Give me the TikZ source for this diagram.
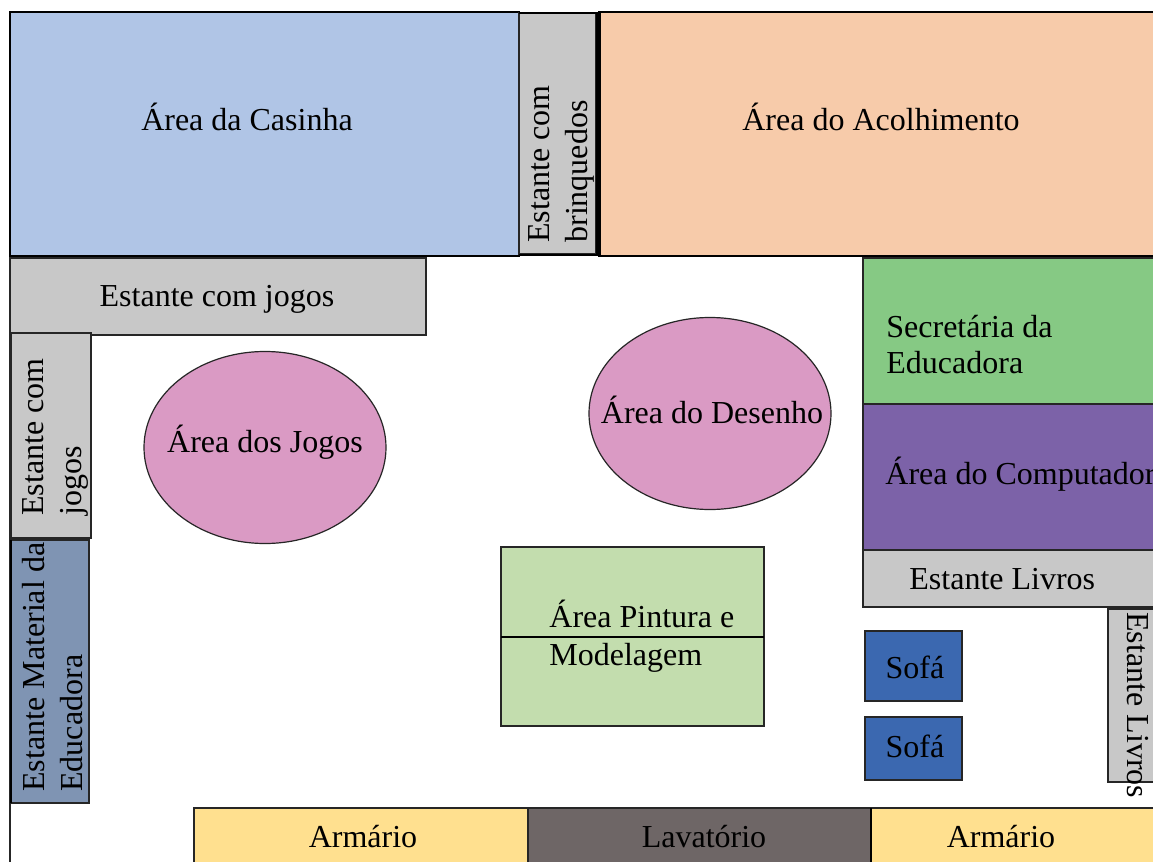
\documentclass[tikz,border=0pt]{standalone}
\usepackage{fontspec}
\setmainfont{Liberation Serif}
\definecolor{casinha}{HTML}{B0C5E6}
\definecolor{acolhe}{HTML}{F7CBAA}
\definecolor{estante}{HTML}{C8C8C8}
\definecolor{secret}{HTML}{86C984}
\definecolor{compu}{HTML}{7C62A8}
\definecolor{mesa}{HTML}{DA9AC4}
\definecolor{pintura}{HTML}{C3DDAE}
\definecolor{sofa}{HTML}{3B68B0}
\definecolor{material}{HTML}{7F94B3}
\definecolor{armario}{HTML}{FFE08F}
\definecolor{lavat}{HTML}{6E6666}
\tikzset {
  x=0.5pt, y=-0.5pt,
  % areas of the room
  area/.style = {draw=black!85, line width=0.6pt},
  thickarea/.style = {draw=black, line width=1.3pt},
  % labels
  lab/.style = {inner sep=0pt, font=\fontsize{16}{19}\selectfont},
  lableft/.style = {lab, align=left},
  labup/.style = {lab, rotate=90, align=left},
  labdown/.style = {lab, rotate=-90},
}

\begin{document}
\begin{tikzpicture}
  \useasboundingbox (0,0) rectangle (1153,862);
  \clip (0,0) rectangle (1153,862);
  \fill[white] (0,0) rectangle (1153,862);

  % room outline on the left
  \draw[area] (10,12) -- (10,862);

  % top row
  \draw[thickarea, fill=casinha] (10,12) rectangle (519,256);
  \draw[thickarea, fill=acolhe] (599,12) rectangle (1160,256);
  \draw[area, fill=estante] (519,13) rectangle (596,254);
  \draw[line width=2.5pt] (598,12) -- (598,256);
  \draw[thickarea] (519,13) -- (599,13);
  \draw[thickarea] (519,255) -- (599,255);

  % left wall
  \draw[area, fill=estante] (10,258) rectangle (426,335);
  \draw[area, fill=estante] (11,333) rectangle (91,538);
  \draw[area, fill=material] (11,540) rectangle (89,803);
  \draw[line width=1.3pt] (11,540) -- (11,803);

  % tables
  \draw[area, fill=mesa] (265,447.5) ellipse (121 and 96);
  \draw[area, fill=mesa] (710,413.5) ellipse (121 and 96);
  \draw[area, fill=pintura] (501,547) rectangle (764,726);
  \draw[thickarea] (501,637) -- (764,637);

  % right wall
  \draw[area, fill=secret] (863,258) rectangle (1160,404);
  \draw[area, fill=compu] (863,404) rectangle (1160,550);
  \draw[area, fill=estante] (863,550) rectangle (1160,607);
  \draw[area, fill=estante] (1108,609) rectangle (1160,782);
  \draw[area, fill=sofa] (865,631) rectangle (962,701);
  \draw[area, fill=sofa] (865,717) rectangle (962,780);

  % bottom row
  \draw[area, fill=armario] (194,808) rectangle (528,870);
  \draw[area, fill=lavat] (528,808) rectangle (871,870);
  \draw[area, fill=armario] (871,808) rectangle (1160,870);
  \draw[thickarea] (871,808) -- (871,870);

  % labels
  \node[lab] (casinhaL) at (247,117) {Área da Casinha};
  \node[lab] (acolheL) at (881,117) {Área do Acolhimento};
  \node[labup, anchor=south west] (brinqL) at (595,243) {Estante com\\brinquedos};
  \node[lab] (jogosL) at (217,299) {Estante com jogos};
  \node[labup, anchor=south west] (jogosV) at (89,516) {Estante com\\jogos};
  \node[labup, anchor=south west] (materialL) at (83,792) {Estante Material da\\Educadora};
  \node[lab] (areaJogos) at (265,442) {Área dos Jogos};
  \node[lab] (areaDesenho) at (712,410) {Área do Desenho};
  \node[lableft, anchor=north west] (pinturaL) at (549,600) {Área Pintura e\\Modelagem};
  \node[lableft, anchor=north west, font=\fontsize{16}{18}\selectfont] (secretL) at (886,315) {Secretária da\\Educadora};
  \node[lab, anchor=west] (compuL) at (885,474) {Área do Computador};
  \node[lab, anchor=west] (livrosL) at (909,579) {Estante Livros};
  \node[labdown, anchor=south west] (livrosV) at (1127,612) {Estante Livros};
  \node[lab] (sofaA) at (915,667) {Sofá};
  \node[lab] (sofaB) at (915,746) {Sofá};
  \node[lab] (armarioA) at (363,837) {Armário};
  \node[lab] (lavatL) at (704,837) {Lavatório};
  \node[lab] (armarioB) at (1001,837) {Armário};
\end{tikzpicture}
\end{document}
